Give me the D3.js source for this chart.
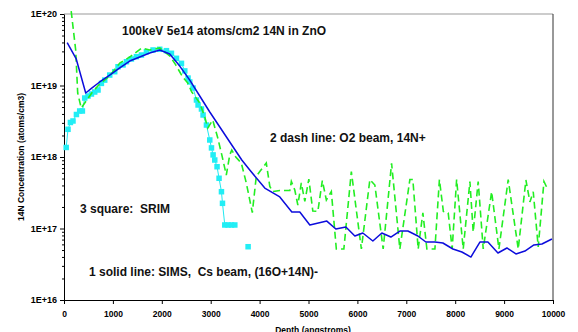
<!DOCTYPE html>
<html>
<head>
<meta charset="utf-8">
<script src="https://cdn.jsdelivr.net/npm/d3@7"></script>
<style>
  body { margin: 0; background: #fff; }
  svg { display: block; font-family: "Liberation Sans", Arial, sans-serif; }
  text { white-space: pre; }
</style>
</head>
<body>
<div id="chart"></div>
<script>
// SIMS, Cs beam (solid blue)
const simsDepth = [65,250,444,567,730,935,1140,1344,1549,1753,1958,2163,2367,2572,2776,2981,3186,3431,3636,3799,4106,4413,4659,4822,5027,5375,5559,5764,5948,6111,6316,6500,6684,6868,7032,7237,7400,7585,7748,7953,8137,8321,8505,8669,8874,9058,9242,9426,9610,9774,9978]
const simsConc = [3.99e19,2.35e19,7.85e18,9.2e18,1.12e19,1.40e19,1.76e19,2.20e19,2.50e19,2.85e19,3.14e19,2.76e19,1.87e19,1.19e19,7.13e18,4.26e18,2.63e18,1.47e18,9.08e17,6.58e17,3.68e17,2.76e17,1.70e17,1.70e17,1.12e17,1.27e17,9.84e16,1.05e17,7.85e16,8.65e16,6.68e16,8.65e16,7.60e16,9.22e16,9.22e16,7.85e16,6.47e16,6.47e16,6.27e16,5.17e16,4.69e16,3.99e16,6.47e16,6.47e16,4.54e16,5.34e16,4.40e16,4.84e16,5.88e16,6.07e16,7.13e16]

// O2 beam (dashed green)
const o2Depth = [147,239,280,352,424,567,730,935,1140,1344,1590,1753,1958,2163,2285,2429,2531,2613,2776,2879,2940,3042,3145,3227,3319,3390,3431,3513,3626,3728,3851,3932,4004,4137,4209,4270,4413,4618,4649,4720,4782,4853,4925,5007,5088,5191,5283,5365,5467,5569,5723,5876,6081,6255,6357,6527,6699,6868,7073,7134,7243,7339,7421,7585,7677,7758,7857,7938,8029,8164,8301,8368,8470,8573,8745,8894,9084,9289,9446,9528,9596,9698,9815,9882]
const o2Conc = [1.10e20,3.14e19,7.85e18,4.84e18,5.69e18,7.85e18,1.05e19,1.36e19,2.06e19,2.50e19,3.35e19,3.14e19,3.35e19,2.59e19,1.94e19,1.31e19,1.08e19,8.11e18,5.69e18,3.63e18,2.55e18,3.29e18,1.84e18,1.07e18,5.60e17,1.07e18,1.25e18,1.0e18,8.24e17,4.33e17,1.67e17,5.34e17,6.27e17,8.24e17,3.87e17,3.29e17,3.40e17,3.40e17,4.54e17,3.45e17,2.13e17,4.33e17,2.39e17,4.92e17,1.76e17,1.73e17,4.69e17,2.50e17,3.29e17,5.17e16,5.17e16,6.27e17,5.17e16,4.84e17,4.06e17,5.17e16,8.16e17,5.17e16,4.84e17,4.84e17,5.17e16,1.65e17,5.17e16,5.17e16,4.84e17,1.73e17,1.65e17,5.17e16,4.84e17,5.17e16,4.54e17,8.93e16,4.54e17,5.17e16,3.27e17,5.17e16,4.84e17,5.17e16,4.77e17,2.35e17,3.27e17,5.51e16,4.54e17,3.65e17]

// SRIM (cyan squares), null = break in the line
const srimDepth = [45,82,131,184,254,321,376,424,491,561,628,696,765,833,935,1037,1105,1207,1277,1379,1481,1584,1686,1821,1958,2095,2197,2300,2402,2470,2537,2572,2639,2709,2742,2811,2844,2913,2981,3016,3049,3083,3130,3171,3220,3241,3288,3355,3425,3493,3630,3765]
const srimConc = [1.36e18,2.44e18,3.04e18,3.19e18,3.93e18,4.40e18,4.40e18,6.68e18,7.13e18,7.60e18,8.11e18,8.65e18,1.07e19,1.19e19,1.40e19,1.56e19,1.83e19,1.94e19,2.15e19,2.35e19,2.53e19,2.67e19,2.97e19,3.14e19,3.21e19,3.07e19,2.82e19,2.40e19,2.04e19,1.60e19,1.27e19,1.12e19,9.22e18,6.27e18,5.34e18,4.69e18,3.87e18,2.80e18,1.73e18,1.34e18,1.07e18,9.08e17,7.31e17,5.04e17,3.27e17,2.25e17,1.12e17,1.12e17,1.12e17,1.12e17,null,5.56e16]

const xTicks = [0,1000,2000,3000,4000,5000,6000,7000,8000,9000,10000]
const yTicks = [1e16,1e17,1e18,1e19,1e20]

const width = 578
const height = 332
const margin = ({top: 14, right: 25, bottom: 32, left: 64})

const x = d3.scaleLinear()
    .domain([0, 10000])
    .range([margin.left, width - margin.right])

const y = d3.scaleLog()
    .domain([1e16, 1e20])
    .range([height - margin.bottom, margin.top])

const sims = d3.zip(simsDepth, simsConc)
const o2 = d3.zip(o2Depth, o2Conc)
const srim = d3.zip(srimDepth, srimConc)

const line = d3.line()
    .defined(d => d[1] != null)
    .x(d => x(d[0]))
    .y(d => y(d[1]))

const svg = d3.select("#chart").append("svg")
    .attr("width", width)
    .attr("height", height)

// frame (top + right)
svg.append("line")
    .attr("x1", x(0)).attr("x2", x(10000))
    .attr("y1", y(1e20)).attr("y2", y(1e20))
    .attr("stroke", "#999").attr("stroke-width", 1)
svg.append("line")
    .attr("x1", x(10000)).attr("x2", x(10000))
    .attr("y1", y(1e20)).attr("y2", y(1e16))
    .attr("stroke", "#333").attr("stroke-width", 1)

// minor y ticks
const minors = []
for (let e = 16; e < 20; e++) for (let k = 2; k <= 9; k++) minors.push(k * Math.pow(10, e))

svg.append("g")
    .attr("transform", `translate(${margin.left},0)`)
    .call(d3.axisLeft(y).tickValues(minors).tickSize(2).tickFormat(""))
    .call(g => g.select(".domain").remove())

svg.append("g")
    .attr("transform", `translate(${margin.left},0)`)
    .call(d3.axisLeft(y).tickValues(yTicks).tickSize(4).tickSizeOuter(0)
        .tickFormat(d => "1E+" + Math.round(Math.log10(d))))
    .call(g => g.selectAll("text").attr("font-size", 9).attr("font-weight", "bold")
        .attr("font-family", "Liberation Sans, Arial, sans-serif"))

svg.append("g")
    .attr("transform", `translate(0,${height - margin.bottom})`)
    .call(d3.axisBottom(x).tickValues(xTicks).tickSize(4).tickSizeOuter(0).tickFormat(d3.format("d")))
    .call(g => g.selectAll("text").attr("font-size", 8.5).attr("font-weight", "bold").attr("dy", "1.2em")
        .attr("font-family", "Liberation Sans, Arial, sans-serif"))

// series
svg.append("path")
    .datum(srim)
    .attr("fill", "none")
    .attr("stroke", "#22e8f0")
    .attr("stroke-width", 1)
    .attr("d", line)

svg.append("g")
    .selectAll("rect")
    .data(srim.filter(d => d[1] != null))
    .join("rect")
    .attr("x", d => x(d[0]) - 2.75)
    .attr("y", d => y(d[1]) - 2.75)
    .attr("width", 5.5)
    .attr("height", 5.5)
    .attr("fill", "#22eef5")

svg.append("path")
    .datum(o2)
    .attr("fill", "none")
    .attr("stroke", "#22ee22")
    .attr("stroke-width", 1.6)
    .attr("stroke-dasharray", "7,4")
    .attr("d", line)

svg.append("path")
    .datum(sims)
    .attr("fill", "none")
    .attr("stroke", "#0c0cdc")
    .attr("stroke-width", 1.5)
    .attr("stroke-linejoin", "round")
    .attr("d", line)

// annotations
const notes = [
    {t: "100keV 5e14 atoms/cm2 14N in ZnO", x: 122, y: 35, s: 12},
    {t: "2 dash line: O2 beam, 14N+", x: 270, y: 142, s: 12},
    {t: "3 square:  SRIM", x: 80, y: 213, s: 12},
    {t: "1 solid line: SIMS,  Cs beam, (16O+14N)-", x: 89, y: 276, s: 12}
]
svg.append("g")
    .selectAll("text")
    .data(notes)
    .join("text")
    .attr("x", d => d.x)
    .attr("y", d => d.y)
    .attr("font-size", d => d.s)
    .attr("font-weight", "bold")
    .attr("fill", "#111")
    .text(d => d.t)

svg.append("text")
    .attr("transform", `translate(24,${(margin.top + height - margin.bottom) / 2}) rotate(-90)`)
    .attr("text-anchor", "middle")
    .attr("font-size", 8.5)
    .attr("font-weight", "bold")
    .text("14N Concentration (atoms/cm3)")

svg.append("text")
    .attr("x", 313)
    .attr("y", 333)
    .attr("text-anchor", "middle")
    .attr("font-size", 8.5)
    .attr("font-weight", "bold")
    .text("Depth (angstroms)")
</script>
</body>
</html>
